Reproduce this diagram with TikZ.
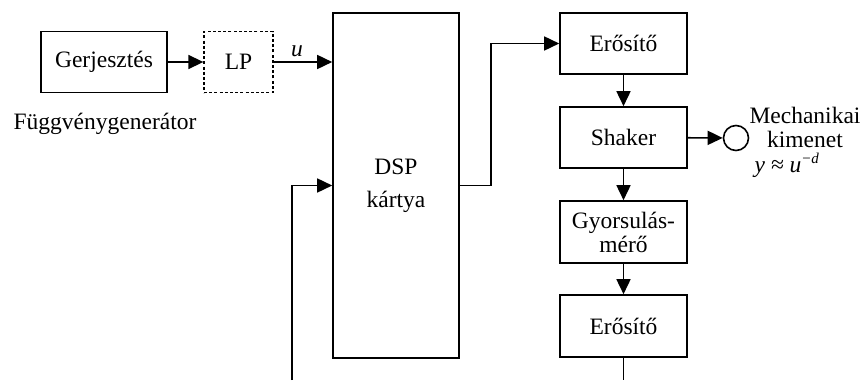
\documentclass[tikz,border=0pt]{standalone}
\usepackage{fontspec}
\setmainfont{Liberation Serif}
\usetikzlibrary{arrows.meta}

\begin{document}
\begin{tikzpicture}[x=1pt,y=-1pt,line width=1.6pt,
  font=\fontsize{23.5}{26}\selectfont,
  blk/.style={draw,inner sep=0pt,minimum width=126pt,minimum height=61pt,align=center},
  arr/.style={-{Triangle[length=15pt,width=14pt]}}]
\useasboundingbox (0,0) rectangle (864,380);
\node[blk] (gen) at (104,62) {Gerjesztés};
\node[blk,minimum width=69pt,dash pattern=on 3pt off 2.2pt,line width=1.3pt] (lp) at (238.5,62) {LP};
\node (fgen) at (105,124) {Függvénygenerátor};
\node[blk,minimum height=345pt] (dsp) at (396,185.5) {DSP\\[7pt]kártya};
\node[blk,minimum width=127pt] (amp1) at (623.5,43.5) {Erősítő};
\node[blk,minimum width=127pt] (shaker) at (623.5,137.5) {Shaker};
\node[blk,minimum width=127pt,minimum height=62pt,font=\fontsize{23.5}{24}\selectfont] (acc) at (623.5,232) {Gyorsulás-\\mérő};
\node[blk,minimum width=127pt,minimum height=62pt] (amp2) at (623.5,326) {Erősítő};
\node[draw,circle,inner sep=0pt,minimum size=25pt] (out) at (736,138) {};
\node[align=center,inner sep=1pt,font=\fontsize{23.5}{24}\selectfont] (mech) at (805,127) {Mechanikai\\kimenet};
\node[inner sep=1pt] (yu) at (787,165) {\itshape y ≈ u\textsuperscript{\fontsize{15}{15}\selectfont −d}};
\coordinate (fb) at (292,380);
\coordinate (end) at (amp2.south |- 0,380);

\draw[arr] (gen) -- (lp);
\draw[arr] (lp.east) -- (lp.east -| dsp.west) node[pos=0.4,above=1pt] {\itshape u};
\draw[arr] (fb) |- (dsp.west);
\draw[arr] (dsp.east) -- ++(31,0) |- (amp1.west);
\draw[arr] (amp1) -- (shaker);
\draw[arr] (shaker) -- (acc);
\draw[arr] (acc) -- (amp2);
\draw (amp2) -- (end);
\draw[arr] (shaker) -- (out);
\end{tikzpicture}
\end{document}
